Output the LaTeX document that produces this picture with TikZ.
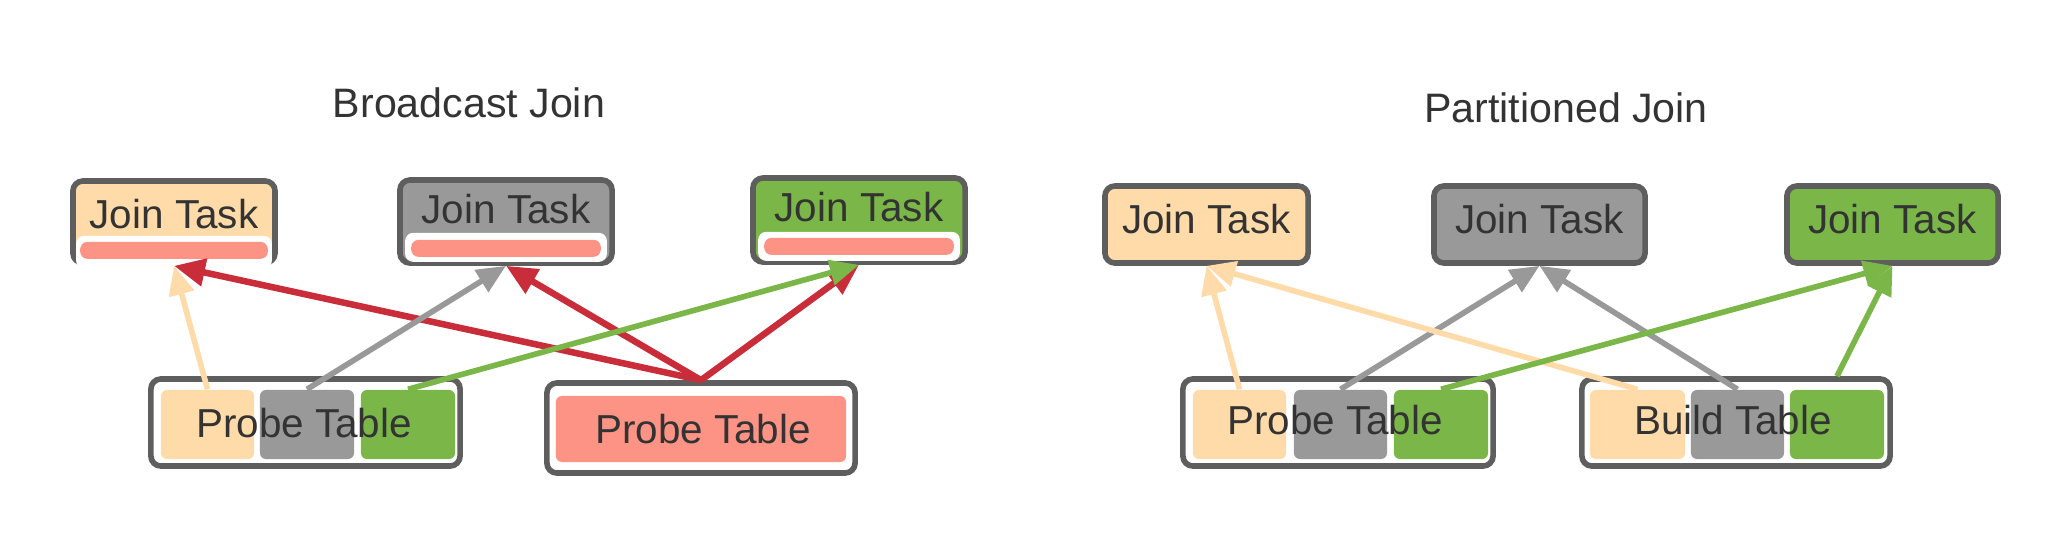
\documentclass[tikz,border=0pt]{standalone}
\usepackage{fontspec}
\setmainfont{Liberation Sans}
\usetikzlibrary{arrows.meta,calc}
\definecolor{peach}{HTML}{FFDBA9}
\definecolor{midgray}{HTML}{999999}
\definecolor{lgreen}{HTML}{7AB648}
\definecolor{salmon}{HTML}{FC9384}
\definecolor{jred}{HTML}{C92D39}
\definecolor{bord}{HTML}{5E5E5E}
\definecolor{txt}{HTML}{333333}
\begin{document}
\begin{tikzpicture}[x=0.01cm,y=-0.01cm,
  frame/.style={draw=bord,line width=1.6pt,rounded corners=0.1cm,inner sep=0pt},
  cell/.style={rounded corners=0.06cm,inner sep=0pt,minimum height=0.69cm},
  lbl/.style={text=txt,font=\fontsize{11.5}{14}\selectfont,inner sep=0pt},
  ttl/.style={text=txt,font=\fontsize{11.7}{14}\selectfont,inner sep=0pt},
  arr/.style={line width=1.6pt,-{Triangle[length=0.29cm,width=0.25cm]}},
  redarr/.style={line width=1.85pt,draw=jred,-{Triangle[length=0.31cm,width=0.27cm]}},
  band/.style={fill=white,rounded corners=0.08cm},
  bar/.style={fill=salmon,rounded corners=0.075cm}
]
\useasboundingbox (0,0) rectangle (2072,548);

% ---------- Broadcast Join ----------
\node[ttl] (t1) at (469,103) {Broadcast Join};

\node[frame,fill=peach,minimum width=2.02cm,minimum height=0.82cm] (jt1) at (174,222) {};
\fill[band] ($(jt1.south west)+(6,-30)$) rectangle ($(jt1.south east)+(-6,3)$);
\fill[bar] ($(jt1.south west)+(10,-24)$) rectangle ($(jt1.south east)+(-10,-7)$);
\node[lbl] (jt1t) at (174,214) {Join Task};

\node[frame,fill=midgray,minimum width=2.12cm,minimum height=0.83cm] (jt2) at (506,221.5) {};
\fill[band] ($(jt2.south west)+(8,-33)$) rectangle ($(jt2.south east)+(-8,-4)$);
\fill[bar] ($(jt2.south west)+(14,-26)$) rectangle ($(jt2.south east)+(-14,-9)$);
\node[lbl] (jt2t) at (506,209) {Join Task};

\node[frame,fill=lgreen,minimum width=2.12cm,minimum height=0.84cm] (jt3) at (859,220) {};
\fill[band] ($(jt3.south west)+(8,-33)$) rectangle ($(jt3.south east)+(-8,-4)$);
\fill[bar] ($(jt3.south west)+(14,-27)$) rectangle ($(jt3.south east)+(-14,-10)$);
\node[lbl] (jt3t) at (859,207) {Join Task};

\node[frame,minimum width=3.09cm,minimum height=0.87cm] (pl) at (305.5,422.5) {};
\node[cell,fill=peach,minimum width=0.93cm] (plp) at (207.5,424.5) {};
\node[cell,fill=midgray,minimum width=0.94cm] (plg) at (307,424.5) {};
\node[cell,fill=lgreen,minimum width=0.94cm] (plgr) at (408,424.5) {};
\node[lbl] (plt) at (304,423) {Probe Table};

\node[frame,minimum width=3.08cm,minimum height=0.9cm] (pp) at (701,428) {};
\node[cell,fill=salmon,minimum width=2.9cm,minimum height=0.66cm] (ppi) at (701,429) {};
\node[lbl] (ppt) at (703,429) {Probe Table};

\draw[redarr] (pp.north) -- (jt1.south);
\draw[redarr] (pp.north) -- (jt2.south);
\draw[redarr] (pp.north) -- (jt3.south);
\draw[arr,draw=midgray] (plg.north) -- (jt2.south);
\draw[arr,draw=peach] (plp.north) -- (jt1.south);
\draw[arr,draw=lgreen] (plgr.north) -- (jt3.south);

% ---------- Partitioned Join ----------
\node[ttl] (t2) at (1566,108) {Partitioned Join};

\node[frame,fill=peach,minimum width=2.03cm,minimum height=0.77cm] (jr1) at (1206.5,224.5) {};
\node[lbl] (jr1t) at (1206.5,219) {Join Task};
\node[frame,fill=midgray,minimum width=2.11cm,minimum height=0.77cm] (jr2) at (1539.5,224.5) {};
\node[lbl] (jr2t) at (1539.5,219) {Join Task};
\node[frame,fill=lgreen,minimum width=2.11cm,minimum height=0.77cm] (jr3) at (1892.5,224.5) {};
\node[lbl] (jr3t) at (1892.5,219) {Join Task};

\node[frame,minimum width=3.10cm,minimum height=0.87cm] (pr) at (1338,422.5) {};
\node[cell,fill=peach,minimum width=0.93cm] (prp) at (1239.5,424.5) {};
\node[cell,fill=midgray,minimum width=0.93cm] (prg) at (1340.5,424.5) {};
\node[cell,fill=lgreen,minimum width=0.94cm] (prgr) at (1441,424.5) {};
\node[lbl] (prt) at (1335,420) {Probe Table};

\node[frame,minimum width=3.08cm,minimum height=0.87cm] (br) at (1736,422.5) {};
\node[cell,fill=peach,minimum width=0.95cm] (brp) at (1637.5,424.5) {};
\node[cell,fill=midgray,minimum width=0.93cm] (brg) at (1737.5,424.5) {};
\node[cell,fill=lgreen,minimum width=0.94cm] (brgr) at (1837,424.5) {};
\node[lbl] (brt) at (1733,420) {Build Table};

\draw[arr,draw=midgray] (prg.north) -- (jr2.south);
\draw[arr,draw=midgray] (brg.north) -- (jr2.south);
\draw[arr,draw=peach] (prp.north) -- (jr1.south);
\draw[arr,draw=peach] (brp.north) -- (jr1.south);
\draw[arr,draw=lgreen] (prgr.north) -- (jr3.south);
\draw[arr,draw=lgreen] (br.north -| brgr.north) -- (jr3.south);
\end{tikzpicture}
\end{document}
